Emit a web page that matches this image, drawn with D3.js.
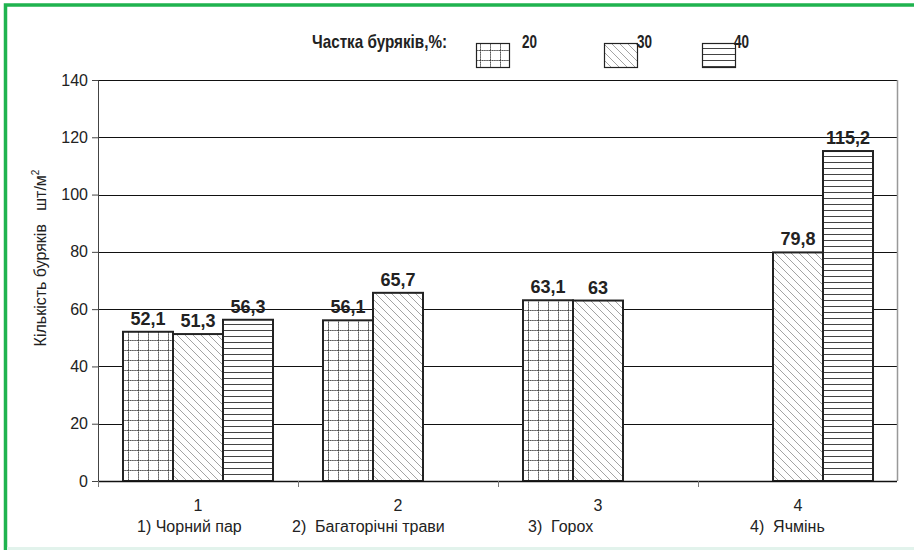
<!DOCTYPE html>
<html>
<head>
<meta charset="utf-8">
<style>
body { margin: 0; background: #fff; }
svg { display: block; font-family: "Liberation Sans", Arial, sans-serif; }
</style>
</head>
<body>
<svg width="914" height="550"></svg>
<script src="https://d3js.org/d3.v7.min.js"></script>
<script>
// data
var categories = ["1", "2", "3", "4"];
var categoryNames = ["1) Чорний пар", "2)  Багаторічні трави", "3)  Горох", "4)  Ячмінь"];
var series = ["20", "30", "40"];
var values20 = [52.1, 56.1, 63.1, null];
var values30 = [51.3, 65.7, 63, 79.8];
var values40 = [56.3, null, null, 115.2];
var yTicks = [0, 20, 40, 60, 80, 100, 120, 140];

var legendTitle = "Частка буряків,%:";
var yTitle = "Кількість буряків   шт/м";

// layout
var plotLeft = 98, plotRight = 897, plotTop = 80, plotBottom = 481;
var nameShift = [39, -6, 30, 52]; // where each category name starts, from band start
var legendBoxX = [476, 604, 702];
var legendTextX = [522, 637, 734];

var svg = d3.select("svg");

var x0 = d3.scaleBand().domain(categories).range([plotLeft, plotRight + 1]);
var x1 = d3.scaleBand().domain(series).range([25, 175]);
var y = d3.scaleLinear().domain([0, 140]).range([plotBottom, plotTop]);

var defs = svg.append("defs");
// 20% - grid
var p20 = defs.append("pattern").attr("id", "p20").attr("patternUnits", "userSpaceOnUse")
    .attr("width", 10).attr("height", 10);
p20.append("rect").attr("width", 10).attr("height", 10).attr("fill", "#fff");
p20.append("path").attr("d", "M0.5,0 V10 M0,0.5 H10")
    .attr("stroke", "#444").attr("stroke-width", 1).attr("stroke-dasharray", "1.5,0.6");
// 30% - diagonal
var p30 = defs.append("pattern").attr("id", "p30").attr("patternUnits", "userSpaceOnUse")
    .attr("width", 8).attr("height", 8);
p30.append("rect").attr("width", 8).attr("height", 8).attr("fill", "#fff");
p30.append("path").attr("d", "M0,0 L8,8 M-2,6 L2,10 M6,-2 L10,2")
    .attr("stroke", "#999").attr("stroke-width", 0.9);
// 40% - horizontal
var p40 = defs.append("pattern").attr("id", "p40").attr("patternUnits", "userSpaceOnUse")
    .attr("width", 6).attr("height", 6);
p40.append("rect").attr("width", 6).attr("height", 6).attr("fill", "#fff");
p40.append("path").attr("d", "M0,0.5 H6").attr("stroke", "#444").attr("stroke-width", 1);

var fills = {"20": "url(#p20)", "30": "url(#p30)", "40": "url(#p40)"};

// green frame
svg.append("path").attr("d", "M5.5,560 V5 H920")
    .attr("fill", "none").attr("stroke", "#1fb34f").attr("stroke-width", 3.5);
svg.append("rect").attr("x", 7).attr("y", 547).attr("width", 907).attr("height", 3).attr("fill", "#e2f3ec");

// grid lines
svg.append("g").selectAll("line").data(yTicks.filter(function(d) { return d > 0; }))
  .enter().append("line")
    .attr("x1", plotLeft).attr("x2", plotRight)
    .attr("y1", function(d) { return Math.round(y(d)) + 0.5; })
    .attr("y2", function(d) { return Math.round(y(d)) + 0.5; })
    .attr("stroke", "#111").attr("stroke-width", 1.2);

// right edge
svg.append("line").attr("x1", plotRight + 0.5).attr("x2", plotRight + 0.5).attr("y1", plotTop).attr("y2", plotBottom)
    .attr("stroke", "#999").attr("stroke-width", 1.5);

// bars
var rows = categories.map(function(c, i) {
  return {cat: c, vals: [
    {s: "20", v: values20[i]}, {s: "30", v: values30[i]}, {s: "40", v: values40[i]}
  ].filter(function(d) { return d.v != null; })};
});

var groups = svg.append("g").selectAll("g").data(rows).enter().append("g")
    .attr("transform", function(d) { return "translate(" + x0(d.cat) + ",0)"; });

groups.selectAll("rect").data(function(d) { return d.vals; }).enter().append("rect")
    .attr("x", function(d) { return x1(d.s); })
    .attr("y", function(d) { return y(d.v); })
    .attr("width", x1.bandwidth())
    .attr("height", function(d) { return y(0) - y(d.v); })
    .attr("fill", function(d) { return fills[d.s]; })
    .attr("stroke", "#222").attr("stroke-width", 2);

groups.selectAll("text").data(function(d) { return d.vals; }).enter().append("text")
    .attr("x", function(d) { return x1(d.s) + x1.bandwidth() / 2; })
    .attr("y", function(d) { return y(d.v) - 7; })
    .attr("text-anchor", "middle")
    .attr("font-weight", "bold").attr("font-size", 18).attr("fill", "#222")
    .text(function(d) { return String(d.v).replace(".", ","); });

// y axis
var yAxis = svg.append("g").attr("transform", "translate(" + plotLeft + ",0)")
    .call(d3.axisLeft(y).tickValues(yTicks).tickSize(6).tickPadding(4));
yAxis.select(".domain").attr("stroke", "#444");
yAxis.selectAll(".tick line").attr("stroke", "#444");
yAxis.selectAll("text").attr("font-size", 16).attr("fill", "#222")
    .attr("font-family", "Liberation Sans, Arial, sans-serif");

// x axis
svg.append("line").attr("x1", plotLeft).attr("x2", plotRight).attr("y1", plotBottom + 0.5).attr("y2", plotBottom + 0.5)
    .attr("stroke", "#111").attr("stroke-width", 1.5);
svg.append("g").selectAll("line").data(categories).enter().append("line")
    .attr("x1", function(d) { return x0(d) + 0.5; })
    .attr("x2", function(d) { return x0(d) + 0.5; })
    .attr("y1", plotBottom).attr("y2", plotBottom + 6)
    .attr("stroke", "#777");

svg.append("g").selectAll("text").data(categories).enter().append("text")
    .attr("x", function(d) { return x0(d) + x0.bandwidth() / 2; })
    .attr("y", 511)
    .attr("text-anchor", "middle").attr("font-size", 16).attr("fill", "#222")
    .text(function(d) { return d; });

svg.append("g").selectAll("text").data(categoryNames).enter().append("text")
    .attr("x", function(d, i) { return x0(categories[i]) + nameShift[i]; })
    .attr("y", 532)
    .attr("font-size", 16).attr("fill", "#222")
    .style("white-space", "pre")
    .text(function(d) { return d; });

// y title
var yt = svg.append("text")
    .attr("transform", "translate(46,258) rotate(-90)")
    .attr("text-anchor", "middle").attr("font-size", 16).attr("fill", "#222")
    .style("white-space", "pre");
yt.append("tspan").text(yTitle);
yt.append("tspan").attr("dy", -7).attr("font-size", 10).text("2");

// legend
svg.append("text").attr("x", 312).attr("y", 48)
    .attr("font-weight", "bold").attr("font-size", 19).attr("fill", "#222")
    .attr("textLength", 135).attr("lengthAdjust", "spacingAndGlyphs")
    .text(legendTitle);

var leg = svg.append("g").selectAll("g").data(series).enter().append("g");
leg.append("rect")
    .attr("x", function(d, i) { return legendBoxX[i] + 0.5; })
    .attr("y", 43.5).attr("width", 33).attr("height", 24)
    .attr("fill", function(d) { return fills[d]; })
    .attr("stroke", "#222").attr("stroke-width", 1.2);
leg.append("text")
    .attr("x", function(d, i) { return legendTextX[i]; })
    .attr("y", 48)
    .attr("font-weight", "bold").attr("font-size", 19).attr("fill", "#222")
    .attr("textLength", 15).attr("lengthAdjust", "spacingAndGlyphs")
    .text(function(d) { return d; });
</script>
</body>
</html>
